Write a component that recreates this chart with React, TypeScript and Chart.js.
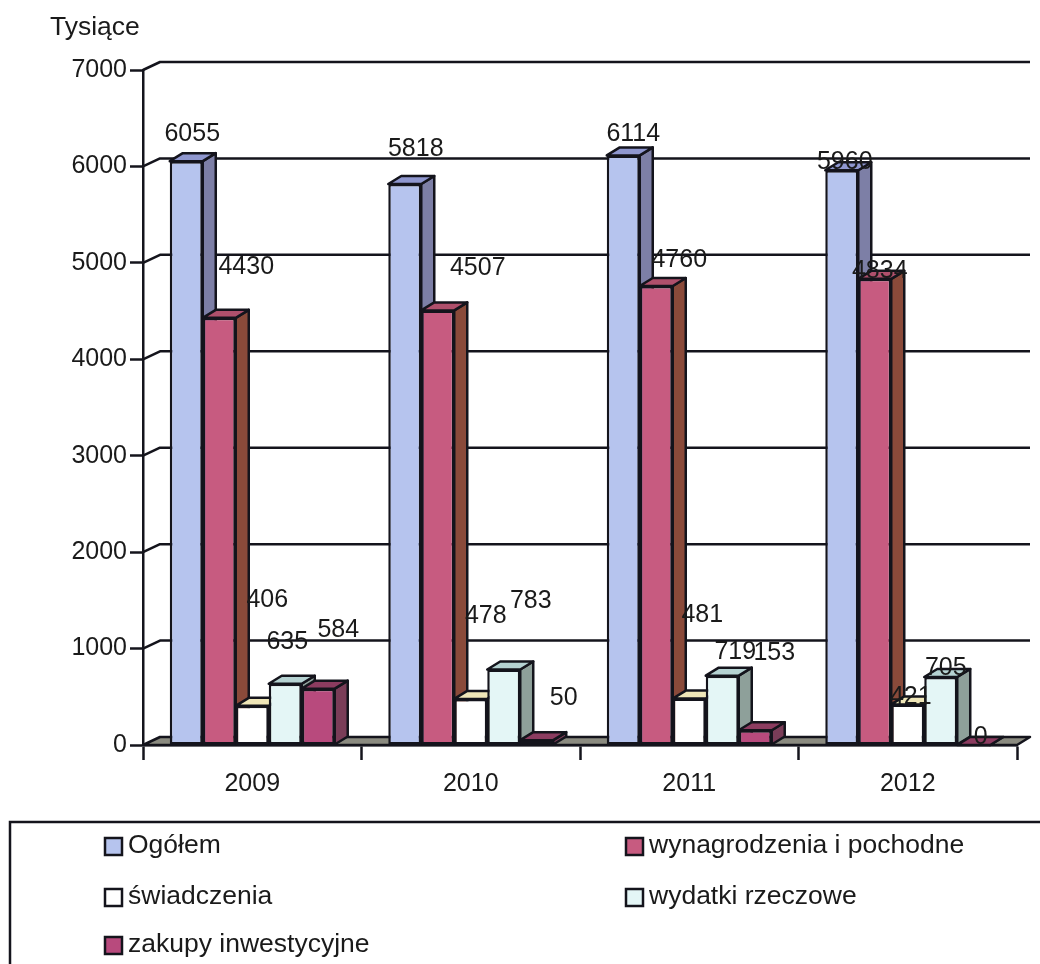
import React, { useEffect, useRef } from "react";
import { Chart, registerables } from "chart.js";

Chart.register(...registerables);

const years = ["2009", "2010", "2011", "2012"];
const ogolem = [6055, 5818, 6114, 5960];
const wynagrodzenia = [4430, 4507, 4760, 4834];
const swiadczenia = [406, 478, 481, 421];
const rzeczowe = [635, 783, 719, 705];
const inwestycyjne = [584, 50, 153, 0];
const yTicks = [0, 1000, 2000, 3000, 4000, 5000, 6000, 7000];
const seriesNames = ["Ogółem", "wynagrodzenia i pochodne", "świadczenia", "wydatki rzeczowe", "zakupy inwestycyjne"];

const FONT = '"Liberation Sans", Arial, sans-serif';
const INK = "#14141c";
const DX = 13;
const DY = 8;
const BACK_X = 17;
const BACK_Y = 8;
const front = ["#b6c4ee", "#c75b80", "#ffffff", "#e4f6f6", "#b84a7d"];
const side = ["#7d7fa6", "#8a4a3a", "#a8a88c", "#8ea09a", "#7a3d58"];
const top = ["#8f97cf", "#b0506c", "#efe6b8", "#b5d2d2", "#8c3c60"];

// label placement relative to the top-centre of each bar [series][year]
const labelOffsets: number[][][] = [
  [[6, -27], [11, -35], [10, -21], [3, -8]],
  [[27, -51], [40, -42], [23, -26], [5, -8]],
  [[15, -106], [15, -83], [13, -84], [3, -7]],
  [[2, -42], [27, -68], [13, -24], [5, -9]],
  [[20, -59], [27, -42], [19, -77], [7, -8]],
];

const poly = (ctx: CanvasRenderingContext2D, pts: number[][], fill: string) => {
  ctx.beginPath();
  pts.forEach((p, i) => (i ? ctx.lineTo(p[0], p[1]) : ctx.moveTo(p[0], p[1])));
  ctx.closePath();
  ctx.fillStyle = fill;
  ctx.fill();
  ctx.lineWidth = 2.5;
  ctx.strokeStyle = INK;
  ctx.lineJoin = "round";
  ctx.stroke();
};

const wall3d = {
  id: "wall3d",
  beforeDatasetDraw() {
    // painted in left-to-right order in beforeDatasetsDraw below
    return false;
  },
  beforeDatasetsDraw(chart: any) {
    const { ctx, chartArea: a, scales } = chart;
    ctx.save();
    poly(ctx, [[a.left, a.bottom], [a.left + BACK_X, a.bottom - BACK_Y], [a.right + 13, a.bottom - BACK_Y], [a.right, a.bottom]], "#8b8b80");
    ctx.strokeStyle = INK;
    ctx.lineWidth = 2.5;
    for (const t of yTicks) {
      if (t === 0) continue;
      const y = scales.y.getPixelForValue(t);
      ctx.beginPath();
      ctx.moveTo(a.left, y);
      ctx.lineTo(a.left + BACK_X, y - BACK_Y);
      ctx.lineTo(a.right + 13, y - BACK_Y);
      ctx.stroke();
    }
    chart.data.datasets.forEach((_: any, i: number) => {
      const meta = chart.getDatasetMeta(i);
      meta.data.forEach((bar: any) => {
        const half = bar.width / 2;
        const l = bar.x - half;
        const r = bar.x + half;
        const t = bar.y;
        const b = bar.base;
        poly(ctx, [[r, t], [r + DX, t - DY], [r + DX, b - DY], [r, b]], side[i]);
        poly(ctx, [[l, t], [l + DX, t - DY], [r + DX, t - DY], [r, t]], top[i]);
      });
      meta.controller.draw();
    });
    ctx.restore();
  },
  afterDatasetsDraw(chart: any) {
    const { ctx } = chart;
    ctx.save();
    ctx.fillStyle = "#1a1a1a";
    ctx.font = `25px ${FONT}`;
    ctx.textAlign = "center";
    ctx.textBaseline = "middle";
    chart.data.datasets.forEach((ds: any, i: number) => {
      chart.getDatasetMeta(i).data.forEach((bar: any, j: number) => {
        const o = labelOffsets[i][j];
        ctx.fillText(String(ds.data[j]), bar.x + o[0], bar.y + o[1]);
      });
    });
    ctx.restore();
  },
  afterDraw(chart: any) {
    const { ctx, width, height } = chart;
    ctx.save();
    ctx.fillStyle = "#1a1a1a";
    ctx.font = `26.5px ${FONT}`;
    ctx.textAlign = "left";
    ctx.textBaseline = "middle";
    ctx.fillText("Tysiące", 50, 28);

    ctx.strokeStyle = INK;
    ctx.lineWidth = 2.5;
    ctx.beginPath();
    ctx.moveTo(10, height);
    ctx.lineTo(10, 822);
    ctx.lineTo(width, 822);
    ctx.stroke();

    const colX = [105, 626];
    const rowY = [846, 897, 945];
    chart.data.datasets.forEach((ds: any, i: number) => {
      const x = colX[i % 2];
      const y = rowY[Math.floor(i / 2)];
      ctx.fillStyle = ds.backgroundColor;
      ctx.fillRect(x, y - 8, 17, 17);
      ctx.strokeRect(x, y - 8, 17, 17);
      ctx.fillStyle = "#1a1a1a";
      ctx.fillText(ds.label, x + 23, y);
    });
    ctx.restore();
  },
};

export default function App() {
  const ref = useRef<HTMLCanvasElement>(null);
  useEffect(() => {
    const values = [ogolem, wynagrodzenia, swiadczenia, rzeczowe, inwestycyjne];
    const chart = new Chart(ref.current as HTMLCanvasElement, {
      type: "bar",
      data: {
        labels: years,
        datasets: values.map((data, i) => ({
          label: seriesNames[i],
          data,
          backgroundColor: front[i],
          borderColor: INK,
          borderWidth: 2.5,
          borderSkipped: false,
          categoryPercentage: 0.755,
          barPercentage: 1,
        })),
      },
      options: {
        responsive: false,
        animation: false,
        layout: { padding: { top: 70, right: 23, left: 0, bottom: 0 } },
        plugins: { legend: { display: false }, title: { display: false }, tooltip: { enabled: false } },
        scales: {
          x: {
            afterFit: (s: any) => { s.height = 219; },
            border: { color: INK, width: 2.5 },
            grid: { drawOnChartArea: false, tickLength: 15, tickColor: INK, tickWidth: 2.5, offset: true },
            ticks: { color: "#1a1a1a", font: { family: FONT, size: 25 }, padding: 9 },
          },
          y: {
            min: 0,
            max: 7000,
            afterFit: (s: any) => { s.width = 143; },
            afterBuildTicks: (s: any) => { s.ticks = yTicks.map((value) => ({ value })); },
            border: { color: INK, width: 2.5 },
            grid: { drawOnChartArea: false, tickLength: 13, tickColor: INK, tickWidth: 2.5 },
            ticks: { color: "#1a1a1a", font: { family: FONT, size: 25 }, padding: 3, callback: (v: any) => String(v) },
          },
        },
      },
      plugins: [wall3d],
    } as any);
    return () => chart.destroy();
  }, []);
  return (
    <div style={{ position: "absolute", left: 0, top: 0, width: 1040, height: 964, background: "#fff" }}>
      <canvas ref={ref} width={1040} height={964} style={{ display: "block" }} />
    </div>
  );
}
